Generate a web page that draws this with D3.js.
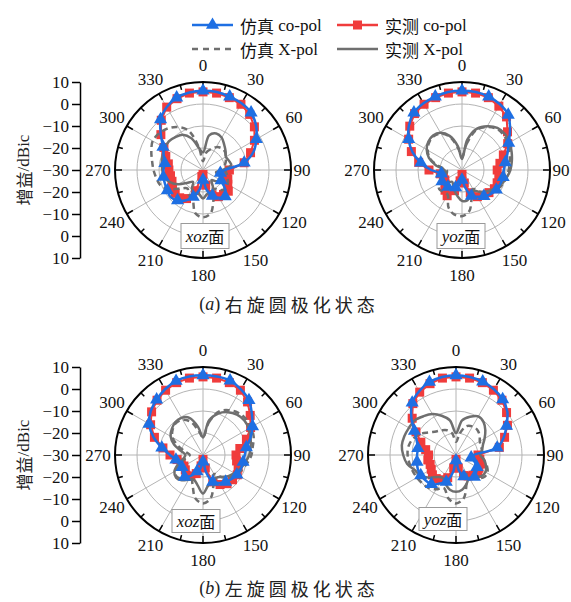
<!DOCTYPE html>
<html><head><meta charset="utf-8">
<script src="https://cdn.jsdelivr.net/npm/d3@7"></script>
<style>body{margin:0;background:#fff}svg{display:block}</style>
</head><body>
<svg id="c" width="571" height="602"></svg>
<script>
// ---------------- data ----------------
const angles = [0,10,20,30,40,50,60,70,80,90,100,110,120,130,140,150,160,170,180,190,200,210,220,230,240,250,260,270,280,290,300,310,320,330,340,350];
const angleTicks = [0,30,60,90,120,150,180,210,240,270,300,330];
const gainTicks = [10,0,-10,-20,-30,-20,-10,0,10];
const seriesNames = ["仿真 co-pol","实测 co-pol","仿真 X-pol","实测 X-pol"];
const planeNames = ["xoz面","yoz面","xoz面","yoz面"];
const captions = ["右旋圆极化状态","左旋圆极化状态"];
const captionLetters = ["a","b"];

// (a) RHCP, xoz
const rhcpXozSimCo  = [6,6,5.5,5,4,1.5,-2,-5.5,-11,-20,-22,-21.5,-20.5,-17,-14.3,-15.5,-17.5,-21,-25.5,-21,-17,-14,-12,-10.8,-11.3,-11.6,-11.7,-12,-12.4,-11,-9,-5,0,3,5,5.8];
const rhcpXozMeasCo = [5.5,5.5,5,4.5,3,0.5,-3,-7,-11,-18,-19,-18,-17,-15,-15.5,-16,-18,-23,-28,-27,-20,-15,-13.5,-13.5,-14,-15,-15,-14.5,-14,-12,-9.5,-5,-0.5,3,4.5,5.5];
const rhcpXozSimX   = [-26,-22,-20,-18,-17,-17,-18,-19,-20,-20,-19,-18,-17,-16.5,-18,-20,-16,-10,-8.5,-10,-16,-17,-19,-17,-12.5,-9.5,-8.5,-7.5,-6.5,-5,-3.6,-4,-5.3,-7.5,-11,-20];
const rhcpXozMeasX  = [-22,-14,-12.3,-13,-15,-16.6,-18,-17.5,-17,-21,-24,-22,-21,-22,-24,-21,-19,-19,-17,-19,-19,-20,-23,-21,-17,-14,-12,-11.5,-11,-10.5,-10,-9.7,-10.5,-11.5,-14.7,-20];
// (a) RHCP, yoz
const rhcpYozSimCo  = [6,6,5.5,4.5,2.7,-1.5,-5.5,-8,-10,-11,-11,-11.5,-12,-13,-14.5,-16,-17.5,-22,-25.5,-23,-21.5,-21,-20,-19.5,-19.5,-20,-20.5,-16,-11,-6,-2,1.5,4,5,5.5,6];
const rhcpYozMeasCo = [5.5,5.5,5,3.5,1.5,-3,-6,-10,-12.5,-14,-13,-13,-13,-14,-15,-16,-19,-24,-28,-25,-20,-16.5,-18,-20,-21,-21,-20,-15,-10,-5.5,-2,1,3.5,4.5,5,5.5];
const rhcpYozSimX   = [-24,-18,-10.5,-7.5,-5.5,-5.3,-6,-7,-8,-8.8,-9.5,-10.5,-12,-14,-17,-20,-17,-11,-9,-9.5,-12,-17,-17,-16.5,-18,-21,-23,-23,-19,-14.5,-12,-10.5,-10,-11,-14,-20];
const rhcpYozMeasX  = [-25,-16,-10,-7,-5,-4.5,-5,-6,-7,-8,-9.5,-11,-13,-15,-17,-19,-18,-16,-16,-18,-20,-22,-23,-21,-19,-20,-22,-22,-18,-14,-11.5,-10,-9.5,-10.5,-13.5,-19];
// (b) LHCP, xoz
const lhcpXozSimCo  = [6.2,6.2,6,4.5,2.5,-1,-4,-7,-10,-11,-11.5,-11.7,-12.2,-13,-14,-15.3,-17,-22,-27,-24,-22,-19,-17,-18,-19,-18.5,-17.5,-15,-11,-6,-1.7,1,2.8,4.5,5.8,6.2];
const lhcpXozMeasCo = [5.5,5.5,5,4,1.5,-2,-5,-9,-13,-15,-14.5,-13,-12,-12.5,-13,-14.5,-17,-24,-28,-25,-21,-19,-18,-19.5,-20,-19.5,-18,-15,-11.5,-6.5,-2.5,0.5,2.5,4,5,5.5];
const lhcpXozSimX   = [-22,-15,-9,-6.5,-5,-4.5,-4.8,-5.5,-7,-8,-9.5,-11,-12.5,-14,-17,-20,-16,-10,-8,-10,-16,-19,-16,-14.5,-15.5,-19,-22,-24,-22,-18,-14,-12,-11,-11.5,-14,-19];
const lhcpXozMeasX  = [-22,-14,-10,-7.5,-6,-5.5,-6,-7,-8,-9,-10.5,-12,-13.5,-15,-17,-18,-17,-16,-12.5,-16,-18,-17,-15,-14,-15,-18,-21,-22,-20,-16,-13,-11.5,-10.5,-10.5,-12,-17];
// (b) LHCP, yoz
const lhcpYozSimCo  = [6.2,6,5.5,4.5,3,0.5,-3.5,-7,-11,-22,-23,-21,-19,-18,-17,-17.5,-19.6,-23,-27.5,-22,-17,-15,-12.6,-12,-11.5,-11.5,-12,-12.3,-12.4,-11,-8.2,-3.5,1,3.5,5.3,6];
const lhcpYozMeasCo = [5.5,5.5,5,4,2.5,0,-3,-6.5,-10,-20,-19,-18,-18,-17,-18,-19,-20,-24,-28,-24,-19,-17,-16,-16,-17,-17.5,-17,-17.5,-16,-13,-9,-4,0.5,3,4.5,5.5];
const lhcpYozSimX   = [-24,-20,-16,-15,-15,-16,-17.5,-18,-18,-18.5,-17,-15,-13.5,-14,-17,-20,-16,-10,-8,-10,-14,-12,-10.5,-10,-9.5,-9,-8.5,-8,-8,-9,-11,-14,-16,-17,-18,-20];
const lhcpYozMeasX  = [-20,-14,-11.5,-9.7,-10.5,-12.6,-15,-17,-18,-19,-17,-15.5,-14.5,-15,-17,-18,-16,-14,-13.3,-14,-16,-18,-17,-14,-11.5,-10,-7.4,-6,-5,-5,-5.3,-5.5,-7,-8.5,-11,-14];

// ---------------- layout / style ----------------
const R = 88;
const panels = [
  {cx:203, cy:170, plane:planeNames[0], box:[2,66,48,25], s:[rhcpXozSimCo,rhcpXozMeasCo,rhcpXozSimX,rhcpXozMeasX]},
  {cx:462, cy:170, plane:planeNames[1], box:[-1,66,48,25], s:[rhcpYozSimCo,rhcpYozMeasCo,rhcpYozSimX,rhcpYozMeasX]},
  {cx:203, cy:455, plane:planeNames[2], box:[-7,66,48,23], s:[lhcpXozSimCo,lhcpXozMeasCo,lhcpXozSimX,lhcpXozMeasX]},
  {cx:456, cy:455, plane:planeNames[3], box:[-13,64,48,23], s:[lhcpYozSimCo,lhcpYozMeasCo,lhcpYozSimX,lhcpYozMeasX]}
];
const BLUE = "#1e6fe3", RED = "#f03c3c", GRAY = "#6f6f6f";
const SERIF = "'Liberation Serif','Times New Roman',serif";
const CJK = "'Noto Sans CJK SC','Noto Sans',sans-serif";

const svg = d3.select("#c");
const rScale = d3.scaleLinear().domain([-30,10]).range([0,R]).clamp(true);
const toRad = d => d*Math.PI/180;

function radialLine(curve){
  return d3.lineRadial().angle(d=>toRad(d[0])).radius(d=>rScale(d[1])).curve(curve);
}
const labelR = d => (d===90 ? 99 : 105);

panels.forEach(p=>{
  const g = svg.append("g").attr("transform",`translate(${p.cx},${p.cy})`);
  g.selectAll("circle.grid").data([-20,-10,0]).join("circle")
    .attr("r",d=>rScale(d)).attr("fill","none").attr("stroke","#b4b4b4").attr("stroke-width",1);
  g.selectAll("line.spoke").data(angleTicks).join("line")
    .attr("x1",0).attr("y1",0)
    .attr("x2",d=>R*Math.sin(toRad(d))).attr("y2",d=>-R*Math.cos(toRad(d)))
    .attr("stroke","#b4b4b4").attr("stroke-width",1);
  g.append("circle").attr("r",R).attr("fill","none").attr("stroke","#000").attr("stroke-width",2);
  const tickAngles = d3.range(0,360,15);
  g.selectAll("line.tk").data(tickAngles).join("line")
    .attr("x1",d=>R*Math.sin(toRad(d))).attr("y1",d=>-R*Math.cos(toRad(d)))
    .attr("x2",d=>(R-(d%30===0?7:5))*Math.sin(toRad(d))).attr("y2",d=>-(R-(d%30===0?7:5))*Math.cos(toRad(d)))
    .attr("stroke","#000").attr("stroke-width",1.5);
  g.selectAll("text.ang").data(angleTicks).join("text")
    .attr("x",d=>labelR(d)*Math.sin(toRad(d))).attr("y",d=>-labelR(d)*Math.cos(toRad(d)))
    .attr("text-anchor","middle").attr("dominant-baseline","central")
    .attr("font-family",SERIF).attr("font-size",17).attr("fill","#111")
    .text(d=>d);

  const pts = arr => angles.map((a,i)=>[a,arr[i]]);
  const [simCo, measCo, simX, measX] = p.s.map(pts);

  g.append("path").attr("d",radialLine(d3.curveLinearClosed)(measCo))
    .attr("fill","none").attr("stroke",RED).attr("stroke-width",2);
  g.selectAll("rect.m").data(measCo).join("rect")
    .attr("x",d=>rScale(d[1])*Math.sin(toRad(d[0]))-4.5)
    .attr("y",d=>-rScale(d[1])*Math.cos(toRad(d[0]))-4.5)
    .attr("width",9).attr("height",9).attr("fill",RED);

  g.append("path").attr("d",radialLine(d3.curveCatmullRomClosed.alpha(0.5))(simX))
    .attr("fill","none").attr("stroke",GRAY).attr("stroke-width",2.5).attr("stroke-dasharray","6,4");
  g.append("path").attr("d",radialLine(d3.curveCatmullRomClosed.alpha(0.5))(measX))
    .attr("fill","none").attr("stroke",GRAY).attr("stroke-width",2.5);

  g.append("path").attr("d",radialLine(d3.curveCatmullRomClosed.alpha(0.5))(simCo))
    .attr("fill","none").attr("stroke",BLUE).attr("stroke-width",2.5);
  const tri = d3.symbol(d3.symbolTriangle, 75);
  g.selectAll("path.t").data(simCo.filter((d,i)=>i%2===0)).join("path")
    .attr("d",tri).attr("fill",BLUE)
    .attr("transform",d=>`translate(${rScale(d[1])*Math.sin(toRad(d[0]))},${-rScale(d[1])*Math.cos(toRad(d[0]))})`);

  const [bx,by,bw,bh] = p.box;
  const lb = g.append("g").attr("transform",`translate(${bx},${by})`);
  lb.append("rect").attr("x",-bw/2).attr("y",-bh/2).attr("width",bw).attr("height",bh)
    .attr("fill","#fff").attr("stroke","#9a9a9a").attr("stroke-width",1);
  const t = lb.append("text").attr("text-anchor","middle").attr("dominant-baseline","central")
    .attr("font-size",17).attr("fill","#111");
  t.append("tspan").attr("font-family",SERIF).attr("font-style","italic").text(p.plane.slice(0,3));
  t.append("tspan").attr("font-family",CJK).attr("font-size",16).text(p.plane.slice(3));
});

// radial gain axes on the left
[170,455].forEach(cy=>{
  const y = d3.scaleLinear().domain([0,gainTicks.length-1]).range([cy-R,cy+R]);
  const ax = d3.axisLeft(y).tickValues(d3.range(gainTicks.length)).tickSize(8).tickSizeOuter(0)
    .tickFormat(i=>String(gainTicks[i]).replace("-","\u2212"));
  const ag = svg.append("g").attr("transform","translate(80,0)").call(ax);
  ag.select(".domain").attr("stroke","#000").attr("stroke-width",1.5);
  ag.selectAll(".tick line").attr("stroke","#000").attr("stroke-width",1.5);
  ag.selectAll(".tick text").attr("font-family",SERIF).attr("font-size",17).attr("fill","#111").attr("x",-11);
  svg.append("text").attr("transform",`translate(23,${cy}) rotate(-90)`)
    .attr("text-anchor","middle").attr("dominant-baseline","central")
    .attr("font-size",17).attr("fill","#222")
    .call(t=>{
      t.append("tspan").attr("font-family",CJK).text("增益");
      t.append("tspan").attr("font-family",SERIF).text("/dBic");
    });
});

// legend
const legend = [
  {x:192, y:25, color:BLUE, dash:null, marker:"tri", label:seriesNames[0]},
  {x:337, y:25, color:RED, dash:null, marker:"sq", label:seriesNames[1]},
  {x:192, y:49, color:GRAY, dash:"6,5", marker:null, label:seriesNames[2]},
  {x:337, y:49, color:GRAY, dash:null, marker:null, label:seriesNames[3]}
];
legend.forEach(l=>{
  const g = svg.append("g").attr("transform",`translate(${l.x},${l.y})`);
  g.append("line").attr("x1",0).attr("x2",41).attr("y1",0).attr("y2",0)
    .attr("stroke",l.color).attr("stroke-width",2.5).attr("stroke-dasharray",l.dash);
  if(l.marker==="tri") g.append("path").attr("d",d3.symbol(d3.symbolTriangle,75)).attr("transform","translate(20.5,0)").attr("fill",l.color);
  if(l.marker==="sq") g.append("rect").attr("x",16).attr("y",-4.5).attr("width",9).attr("height",9).attr("fill",l.color);
  const parts = l.label.split(" ");
  const t = g.append("text").attr("x",48).attr("y",0).attr("dominant-baseline","central").attr("font-size",17).attr("fill","#111");
  t.append("tspan").attr("font-family",CJK).text(parts[0]);
  t.append("tspan").attr("font-family",SERIF).text(" "+parts[1]);
});

// captions
[304,588].forEach((y,i)=>{
  const t = svg.append("text").attr("x",289).attr("y",y).attr("text-anchor","middle").attr("dominant-baseline","central").attr("fill","#222");
  t.append("tspan").attr("font-family",SERIF).attr("font-size",18).text("(");
  t.append("tspan").attr("font-family",SERIF).attr("font-style","italic").attr("font-size",18).text(captionLetters[i]);
  t.append("tspan").attr("font-family",SERIF).attr("font-size",18).text(") ");
  t.append("tspan").attr("font-family",CJK).attr("font-size",18).attr("letter-spacing",4).text(captions[i]);
});
</script>
</body></html>
